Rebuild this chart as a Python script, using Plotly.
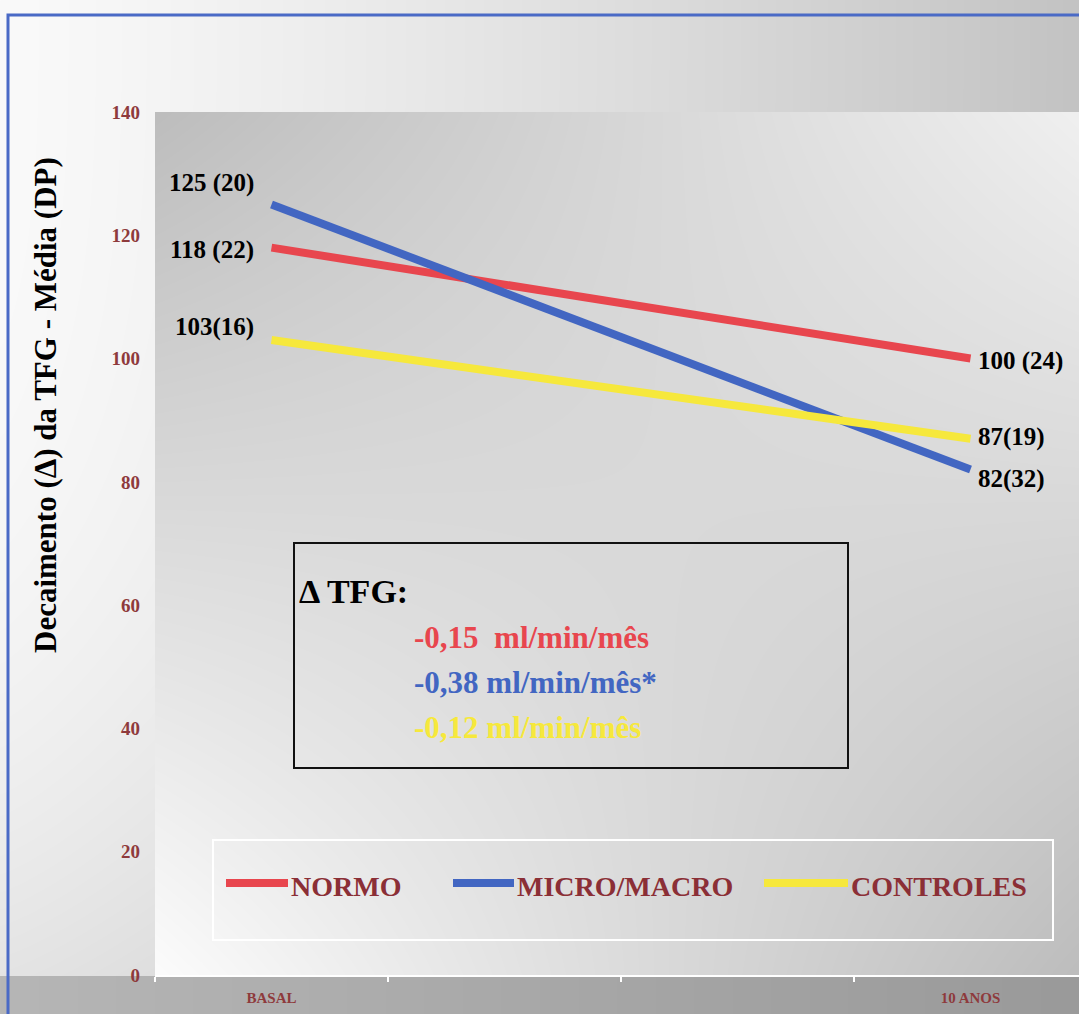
import base64
import struct
import zlib

import numpy as np
import plotly.graph_objects as go

# ---- data -------------------------------------------------------------
periods = ["BASAL", "10 ANOS"]
axis_slots = ["BASAL", "_a", "_b", "10 ANOS"]  # four category slots on the x axis
slot_text = ["BASAL", "", "", "10 ANOS"]

groups = ["NORMO", "MICRO/MACRO", "CONTROLES"]
means = {
    "NORMO": [118, 100],
    "MICRO/MACRO": [125, 82],
    "CONTROLES": [103, 87],
}
sds = {
    "NORMO": [22, 24],
    "MICRO/MACRO": [20, 32],
    "CONTROLES": [16, 19],
}
label_sep = {
    "NORMO": [" ", " "],
    "MICRO/MACRO": [" ", ""],
    "CONTROLES": ["", ""],
}
rates = ["-0,15\u00a0\u00a0ml/min/mês", "-0,38 ml/min/mês*", "-0,12 ml/min/mês"]
y_ticks = [0, 20, 40, 60, 80, 100, 120, 140]
y_title = "Decaimento (\u0394) da TFG - Média (DP)"
box_title = "\u0394 TFG:"

# ---- style ------------------------------------------------------------
colors = {"NORMO": "#e8464e", "MICRO/MACRO": "#4266c2", "CONTROLES": "#f6e83c"}
label_yshift = {"NORMO": [-2, -2], "MICRO/MACRO": [21, -9], "CONTROLES": [13, 2]}
SERIF = "Liberation Serif"
TICK_RED = "#8e3a3c"
LEGEND_RED = "#8b2f36"

W, H = 1079, 1014
L, R, T, B = 155, 0, 112, 39
PW, PH = W - L - R, H - T - B


def px(xpix):
    return (xpix - L) / PW


def py(ypix):
    return (H - B - ypix) / PH


# ---- shaded backdrop (grey gradients) --------------------------------
def backdrop_png():
    yy, xx = np.mgrid[0:H, 0:W].astype(float)
    img = 250 - 55 * (xx / W) ** 1.2 - 25 * (yy / H) ** 3
    inside = (xx >= L) & (yy >= T) & (yy <= H - B)
    xn = np.clip((xx - L) / PW, 0, 1)
    yn = np.clip((yy - T) / PH, 0, 1)
    plot_shade = 189 + 51 * xn + 63 * yn - 114 * xn * yn
    img = np.where(inside, plot_shade, img)
    strip = yy > H - B
    img = np.where(strip, 182 - 28 * (xx / W), img)
    img = np.clip(img, 0, 255).astype(np.uint8)
    raw = b"".join(b"\x00" + img[r].tobytes() for r in range(H))

    def chunk(tag, data):
        c = struct.pack(">I", len(data)) + tag + data
        return c + struct.pack(">I", zlib.crc32(tag + data) & 0xFFFFFFFF)

    png = b"\x89PNG\r\n\x1a\n"
    png += chunk(b"IHDR", struct.pack(">IIBBBBB", W, H, 8, 0, 0, 0, 0))
    png += chunk(b"IDAT", zlib.compress(raw, 9))
    png += chunk(b"IEND", b"")
    return "data:image/png;base64," + base64.b64encode(png).decode()


fig = go.Figure()

for g in groups:
    fig.add_trace(
        go.Scatter(
            x=periods,
            y=means[g],
            mode="lines",
            line=dict(color=colors[g], width=8),
            name=g,
            showlegend=False,
            hoverinfo="skip",
        )
    )

annotations = []
# value labels at both ends of each line
for g in groups:
    for i, period in enumerate(periods):
        text = f"{means[g][i]}{label_sep[g][i]}({sds[g][i]})"
        annotations.append(
            dict(
                x=period,
                y=means[g][i],
                xref="x",
                yref="y",
                text=text,
                showarrow=False,
                xanchor="right" if i == 0 else "left",
                yanchor="middle",
                xshift=-16 if i == 0 else 5,
                yshift=label_yshift[g][i],
                font=dict(family=SERIF, size=25, color="black", weight="bold"),
            )
        )

# y-axis title
annotations.append(
    dict(
        x=px(45), y=py(405), xref="paper", yref="paper", text=y_title,
        textangle=-90, showarrow=False, xanchor="center", yanchor="middle",
        font=dict(family=SERIF, size=31, color="black", weight="bold"),
    )
)

# slope box
annotations.append(
    dict(
        x=px(297), y=py(591), xref="paper", yref="paper", text=box_title,
        showarrow=False, xanchor="left", yanchor="middle",
        font=dict(family=SERIF, size=34, color="black", weight="bold"),
    )
)
for k, (g, r) in enumerate(zip(groups, rates)):
    annotations.append(
        dict(
            x=px(412), y=py(637 + 45 * k), xref="paper", yref="paper", text=r,
            showarrow=False, xanchor="left", yanchor="middle",
            font=dict(family=SERIF, size=31, color=colors[g], weight="bold"),
        )
    )

shapes = [
    # outer blue frame
    dict(type="rect", xref="paper", yref="paper", x0=px(8), x1=px(1095),
         y0=py(15), y1=py(1030), line=dict(color="#4a6ac6", width=3), layer="above"),
    # slope box
    dict(type="rect", xref="paper", yref="paper", x0=px(294), x1=px(848),
         y0=py(543), y1=py(768), line=dict(color="#111111", width=2)),
    # legend frame
    dict(type="rect", xref="paper", yref="paper", x0=px(213), x1=px(1053),
         y0=py(840), y1=py(940), line=dict(color="white", width=2)),
]

# legend entries drawn by hand
legend_samples = {"NORMO": (226, 288), "MICRO/MACRO": (453, 514), "CONTROLES": (764, 848)}
for g in groups:
    x0, x1 = legend_samples[g]
    shapes.append(
        dict(type="line", xref="paper", yref="paper", x0=px(x0), x1=px(x1),
             y0=py(883), y1=py(883), line=dict(color=colors[g], width=8))
    )
    annotations.append(
        dict(x=px(x1 + 1), y=py(886), xref="paper", yref="paper", text=g,
             showarrow=False, xanchor="left", yanchor="middle",
             font=dict(family=SERIF, size=28, color=LEGEND_RED, weight="bold"))
    )

fig.update_layout(
    width=W,
    height=H,
    margin=dict(l=L, r=R, t=T, b=B),
    paper_bgcolor="white",
    plot_bgcolor="rgba(0,0,0,0)",
    showlegend=False,
    annotations=annotations,
    shapes=shapes,
    images=[
        dict(
            source=backdrop_png(),
            xref="paper", yref="paper",
            x=px(0), y=py(0), sizex=W / PW, sizey=H / PH,
            xanchor="left", yanchor="top", sizing="stretch", layer="below",
        )
    ],
    xaxis=dict(
        type="category",
        categoryorder="array",
        categoryarray=axis_slots,
        tickvals=axis_slots,
        ticktext=slot_text,
        range=[-0.5, -0.5 + PW / 233],
        tickson="boundaries",
        ticks="outside",
        ticklen=5,
        tickcolor="white",
        tickwidth=2,
        showline=True,
        linecolor="white",
        linewidth=2,
        showgrid=False,
        zeroline=False,
        tickfont=dict(family=SERIF, size=15, color=TICK_RED, weight="bold"),
        ticklabelstandoff=8,
    ),
    yaxis=dict(
        range=[0, 140],
        tickvals=y_ticks,
        showgrid=False,
        zeroline=False,
        showline=False,
        ticks="",
        tickfont=dict(family=SERIF, size=19, color=TICK_RED, weight="bold"),
        ticklabelstandoff=14,
    ),
)

fig.write_html("out.html")
